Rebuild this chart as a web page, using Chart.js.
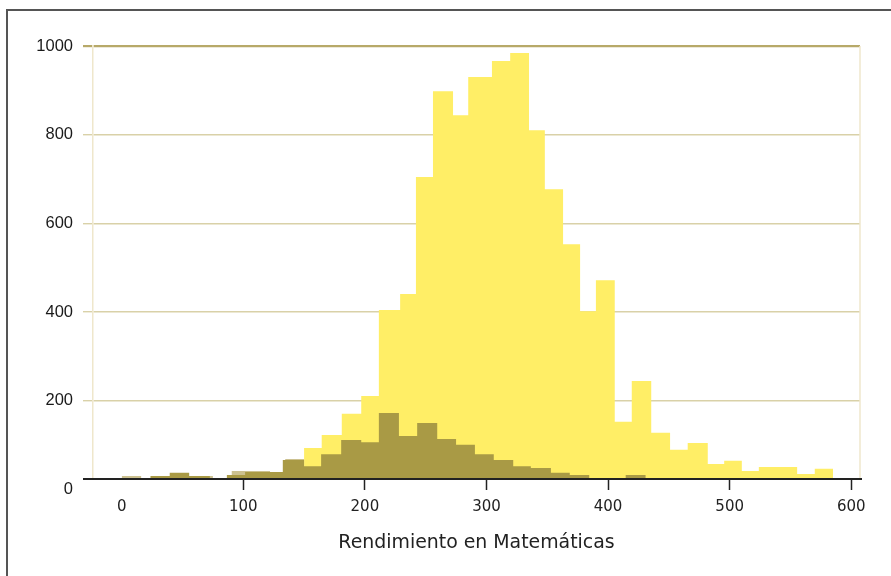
<!DOCTYPE html>
<html lang="es">
<head>
<meta charset="utf-8">
<title>Rendimiento en Matemáticas</title>
<script src="https://cdn.jsdelivr.net/npm/chart.js@4.4.1/dist/chart.umd.min.js"></script>
<style>
  html, body { margin: 0; padding: 0; background: #ffffff; }
  #wrap { position: relative; width: 891px; height: 576px; overflow: hidden; }
  #frame {
    position: absolute; left: 6px; top: 9px; width: 2000px; height: 2000px;
    border-top: 2px solid #555555; border-left: 2px solid #555555;
    pointer-events: none;
  }
  canvas { position: absolute; left: 0; top: 0; }
</style>
</head>
<body>
<div id="wrap">
  <canvas id="chart" width="891" height="576"></canvas>
  <div id="frame"></div>
</div>
<script>
// Score bins: lower edges (last entry closes the final bin) and pupil counts per bin.
const yellowEdges = [150, 164.5, 181, 197, 211.5, 229, 242, 256, 272.5, 285, 304.5, 319.5, 335, 348,
                     363, 377, 390, 405.5, 419.5, 435.5, 451, 465.5, 482, 495.5, 510, 524, 540, 555.5, 570, 585];
const yellowCounts = [94, 123, 171, 211, 405, 441, 705, 898, 844, 930, 966, 984, 810, 677,
                      553, 402, 472, 153, 245, 128, 90, 105, 58, 65, 42, 51, 51, 35, 47];

const khakiEdges  = [0, 16, 59.5, 75, 90.5, 106, 122, 134.5, 150];
const khakiCounts = [31, 0, 31, 0, 42, 42, 0, 69];

const oliveEdges  = [23.5, 39.5, 55.5, 72.5, 86.5, 101.5, 117, 132.5, 150, 164, 180.5, 197, 211.5,
                     228, 243, 259.5, 275, 290.5, 306, 322, 336.5, 353, 368.5, 384.5, 414.5, 431];
const oliveCounts = [31, 38, 31, 0, 33, 40, 40, 67, 53, 80, 112, 107, 173,
                     121, 150, 114, 101, 80, 67, 53, 49, 38, 33, 0, 33];

// Axis ticks
const xTicks = [0, 100, 200, 300, 400, 500, 600];
const yTicks = [0, 200, 400, 600, 800, 1000];
const xTitle = 'Rendimiento en Matemáticas';

const YELLOW = '#FFEE66';
const KHAKI  = '#CCC190';
const OLIVE  = '#A99A45';

// A histogram as a filled step outline: each point starts a bin, the last one closes it.
function binsToPoints(edges, counts) {
  return edges.map((e, i) => ({ x: e, y: i < counts.length ? counts[i] : 0 }));
}

function histDataset(label, edges, counts, color) {
  return {
    label: label,
    data: binsToPoints(edges, counts),
    stepped: 'before',
    fill: 'origin',
    backgroundColor: color,
    borderColor: 'rgba(0,0,0,0)',
    borderWidth: 0,
    pointRadius: 0,
    pointHoverRadius: 0,
    tension: 0
  };
}

// Baseline (extending under the y tick marks) and right edge of the plot box.
const plotFrame = {
  id: 'plotFrame',
  afterDraw(chart) {
    const { ctx, chartArea: a } = chart;
    ctx.save();
    ctx.strokeStyle = '#EFE7CC';
    ctx.lineWidth = 1.5;
    ctx.beginPath();
    ctx.moveTo(a.right, a.top);
    ctx.lineTo(a.right, a.bottom);
    ctx.stroke();
    ctx.strokeStyle = '#222222';
    ctx.lineWidth = 2;
    ctx.beginPath();
    ctx.moveTo(a.left - 10, a.bottom);
    ctx.lineTo(a.right + 2, a.bottom);
    ctx.stroke();
    ctx.restore();
  }
};

new Chart(document.getElementById('chart'), {
  type: 'line',
  data: {
    datasets: [
      histDataset('Grupo C', oliveEdges, oliveCounts, OLIVE),
      histDataset('Grupo B', khakiEdges, khakiCounts, KHAKI),
      histDataset('Grupo A', yellowEdges, yellowCounts, YELLOW)
    ]
  },
  plugins: [plotFrame],
  options: {
    responsive: false,
    animation: false,
    events: [],
    layout: { padding: { top: 46, right: 31, left: 0, bottom: 0 } },
    plugins: {
      legend: { display: false },
      tooltip: { enabled: false }
    },
    scales: {
      x: {
        type: 'linear',
        min: -23.6,
        max: 607.2,
        afterBuildTicks: (scale) => { scale.ticks = xTicks.map(v => ({ value: v })); },
        afterFit: (scale) => { scale.height = 97; },
        grid: {
          drawOnChartArea: false,
          drawTicks: true,
          tickLength: 11,
          tickWidth: 1.5,
          tickColor: (ctx) => (ctx.tick && ctx.tick.value === 0) ? 'rgba(0,0,0,0)' : '#222222'
        },
        border: { display: false },
        ticks: {
          padding: 8,
          color: '#222222',
          font: { family: "'DejaVu Sans', sans-serif", size: 15 },
          maxRotation: 0,
          autoSkip: false
        },
        title: {
          display: true,
          text: xTitle,
          color: '#222222',
          font: { family: "'DejaVu Sans', sans-serif", size: 18.9 },
          padding: { top: 0, bottom: 22 }
        }
      },
      y: {
        type: 'linear',
        min: 24,
        max: 1000,
        z: 1,
        afterBuildTicks: (scale) => { scale.ticks = yTicks.map(v => ({ value: v })); },
        afterFit: (scale) => { scale.width = 93; },
        grid: {
          drawTicks: true,
          tickLength: 10,
          color: (ctx) => {
            if (!ctx.tick) return '#D9D1A8';
            if (ctx.tick.value === 0) return 'rgba(0,0,0,0)';
            return ctx.tick.value === 1000 ? '#B7A969' : '#D9D1A8';
          },
          lineWidth: (ctx) => (ctx.tick && ctx.tick.value === 1000) ? 2.2 : 1.4
        },
        border: { display: true, color: '#EFE7CC', width: 1.5 },
        ticks: {
          padding: 10,
          color: '#1a1a1a',
          font: { family: "'Liberation Sans', Arial, sans-serif", size: 16.5 },
          callback: (v) => String(v)
        }
      }
    }
  }
});
</script>
</body>
</html>
